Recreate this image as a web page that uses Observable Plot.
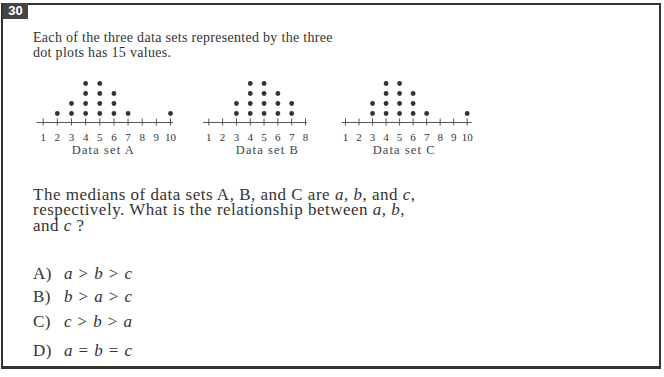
<!DOCTYPE html>
<html><head><meta charset="utf-8">
<script src="https://cdn.jsdelivr.net/npm/d3@7"></script>
<script src="https://cdn.jsdelivr.net/npm/@observablehq/plot@0.6"></script>
<style>
html,body{margin:0;padding:0;background:#fff;}
#page{position:relative;width:664px;height:377px;overflow:hidden;background:#fff;font-family:"Liberation Serif",serif;color:#333;}
.abs{position:absolute;white-space:nowrap;}
#frame{left:1px;top:3px;width:660px;height:366px;border:2px solid #333;border-bottom-width:3px;box-sizing:border-box;}
#num{left:3px;top:3px;width:25px;height:16px;background:#444;color:#fff;font:bold 13px "Liberation Sans",sans-serif;line-height:16px;text-align:center;}
#intro{left:33px;top:29.5px;font-size:14px;line-height:15px;letter-spacing:0.3px;}
#question{left:33px;top:187px;font-size:17px;line-height:15.3px;letter-spacing:0.5px;}
.opt{left:33px;font-size:17px;line-height:20px;letter-spacing:0.9px;}
.opt .lab{display:inline-block;width:31px;letter-spacing:0.4px;}
.plotbox{position:absolute;top:70px;}
.plotbox svg text{font-family:"Liberation Serif",serif;}
</style>
</head><body>
<div id="page">
  <div id="frame" class="abs"></div>
  <div id="num" class="abs">30</div>
  <div id="intro" class="abs">Each of the three data sets represented by the three<br>dot plots has 15 values.</div>
  <div id="question" class="abs">The medians of data sets A, B, and C are <i>a</i>, <i>b</i>, and <i>c</i>,<br>respectively. What is the relationship between <i>a</i>, <i>b</i>,<br>and <i>c</i> ?</div>
  <div class="abs opt" style="top:264px"><span class="lab">A)</span><i>a</i> &gt; <i>b</i> &gt; <i>c</i></div>
  <div class="abs opt" style="top:287px"><span class="lab">B)</span><i>b</i> &gt; <i>a</i> &gt; <i>c</i></div>
  <div class="abs opt" style="top:312px"><span class="lab">C)</span><i>c</i> &gt; <i>b</i> &gt; <i>a</i></div>
  <div class="abs opt" style="top:341px"><span class="lab">D)</span><i>a</i> = <i>b</i> = <i>c</i></div>
</div>
<script>
// Data
const ticksA = [1, 2, 3, 4, 5, 6, 7, 8, 9, 10];
const ticksB = [1, 2, 3, 4, 5, 6, 7, 8];
const ticksC = [1, 2, 3, 4, 5, 6, 7, 8, 9, 10];
const setA = [2, 3, 3, 4, 4, 4, 4, 5, 5, 5, 5, 6, 6, 6, 7, 10];
const setB = [3, 3, 4, 4, 4, 4, 5, 5, 5, 5, 6, 6, 6, 7, 7];
const setC = [3, 3, 4, 4, 4, 4, 5, 5, 5, 5, 6, 6, 6, 7, 10];
const labels = ["Data set A", "Data set B", "Data set C"];

const layouts = [
  {left: 20, width: 170, lineL: 36.7, lineR: 173, t0: 42.7, t1: 170, dx: -2},
  {left: 190, width: 140, lineL: 203, lineR: 306.7, t0: 208.3, t1: 305, dx: 12},
  {left: 330, width: 160, lineL: 341.7, lineR: 471.7, t0: 345, t1: 466.7, dx: -3}
];

const FONT = "Liberation Serif";

function dotPlot(values, ticks, label, L) {
  const svg = Plot.plot({
    width: L.width, height: 100,
    marginTop: 2, marginBottom: 48,
    marginLeft: L.lineL - L.left, marginRight: L.left + L.width - L.lineR,
    x: {domain: [ticks[0], ticks[ticks.length - 1]], range: [L.t0 - L.left, L.t1 - L.left]},
    y: {domain: [0, 5], range: [52, 2], axis: null},
    style: {fontFamily: FONT, color: "#444", background: "transparent", overflow: "visible"},
    marks: [
      Plot.ruleY([0], {stroke: "#555"}),
      Plot.ruleX(ticks, {x: d => d, y1: 0, y2: 0.35, stroke: "#555"}),
      Plot.axisX({ticks, tickSize: 3.5, tickPadding: 7, fontSize: 11, fontFamily: FONT, tickFormat: d => String(d), stroke: "#555", fill: "#333", label: null}),
      Plot.dot(values, Plot.stackY2({x: d => d, fill: "#333", r: 2.4, dy: 1})),
      Plot.text([label], {frameAnchor: "bottom", dy: 31, dx: L.dx, fontSize: 12.5, fontFamily: FONT, fill: "#444", className: "dslabel"})
    ]
  });
  d3.select(svg).selectAll(".dslabel text").style("letter-spacing", "1.1px");
  const box = document.createElement("div");
  box.className = "plotbox";
  box.style.left = L.left + "px";
  box.appendChild(svg);
  document.getElementById("page").appendChild(box);
}

dotPlot(setA, ticksA, labels[0], layouts[0]);
dotPlot(setB, ticksB, labels[1], layouts[1]);
dotPlot(setC, ticksC, labels[2], layouts[2]);
</script>
</body></html>
